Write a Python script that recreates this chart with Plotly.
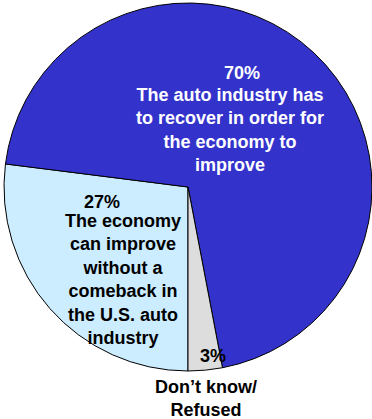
import plotly.graph_objects as go

# Survey responses, listed clockwise starting at 6 o'clock
labels = [
    "The economy can improve without a comeback in the U.S. auto industry",
    "The auto industry has to recover in order for the economy to improve",
    "Don\u2019t know/ Refused",
]
values = [27, 70, 3]
colors = ["#CCECFF", "#3333CC", "#DDDDDD"]

W, H = 372, 419
FONT = "Arial, Liberation Sans, sans-serif"


def px(x, y):
    """Convert pixel position (from top-left) to paper coordinates."""
    return x / W, 1 - y / H


fig = go.Figure(
    go.Pie(
        labels=labels,
        values=values,
        sort=False,
        direction="clockwise",
        rotation=180,
        marker=dict(colors=colors, line=dict(color="#000000", width=1)),
        textinfo="none",
        hoverinfo="label+percent",
        domain=dict(x=[4 / W, 1], y=[48 / H, 416 / H]),
    )
)


def note(text, x, y, color):
    ax, ay = px(x, y)
    fig.add_annotation(
        text=text, x=ax, y=ay, xref="paper", yref="paper",
        xanchor="center", yanchor="middle", showarrow=False,
        align="center",
        font=dict(family=FONT, size=18, color=color, weight="bold"),
    )


# Percent labels come from the values
note(f"{values[1]}%", 242, 73, "white")
note("The auto industry has<br>to recover in order for<br>the economy to<br>improve", 230, 130, "white")

note(f"{values[0]}%", 102, 202, "black")
note("The economy<br>can improve<br>without a<br>comeback in<br>the U.S. auto<br>industry", 123, 279, "black")

note(f"{values[2]}%", 213, 356, "black")
note("Don\u2019t know/<br>Refused", 206, 398, "black")

fig.update_layout(
    width=W, height=H,
    margin=dict(l=0, r=0, t=0, b=0),
    paper_bgcolor="white",
    plot_bgcolor="white",
    showlegend=False,
)

fig.write_html("out.html")
